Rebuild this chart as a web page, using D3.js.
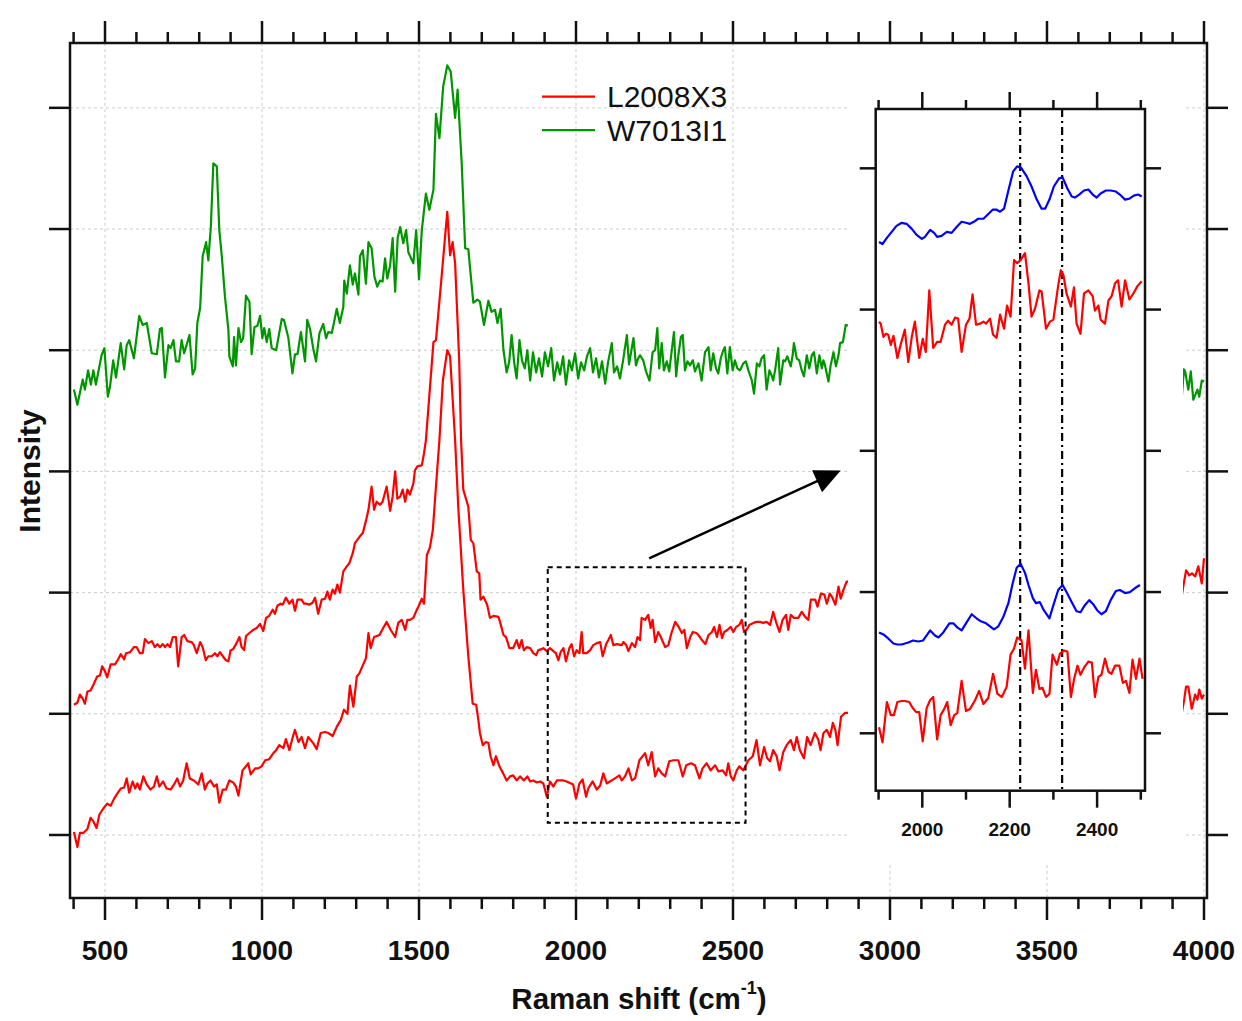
<!DOCTYPE html>
<html><head><meta charset="utf-8">
<script src="https://cdn.jsdelivr.net/npm/d3@7"></script>
<style>body{margin:0;background:#fff}svg{display:block}</style>
</head><body>
<script>
// ---------------- data ----------------
const seriesNames = ["L2008X3", "W7013I1"];
const xMajorTicks = [500, 1000, 1500, 2000, 2500, 3000, 3500, 4000];
const yTickValues = [0, 120, 240, 360, 480, 600, 720];
const insetXMajor = [2000, 2200, 2400];
const insetXMinor = [1900, 2100, 2300, 2500];
const insetYTicks = [0, 140, 280, 420, 560];
const insetMarkers = [2224, 2320];
const zoomBoxX = [1910, 2540];
const zoomBoxY = [12, 265];
const arrowFrom = [2233, 274];
const arrowTo = [2843, 361];

// W7013I1 (green, main panel)
const w7013i1 = [[401,441],[412,426],[429,451],[436,441],[446,460],[455,446],[463,460],[471,446],[489,475],[498,482],[509,434],[516,444],[526,470],[535,453],[550,487],[561,461],[569,485],[577,490],[592,472],[609,514],[620,505],[633,507],[649,477],[665,476],[675,501],[681,502],[691,453],[702,485],[709,482],[718,490],[726,469],[736,469],[744,490],[752,477],[769,495],[779,456],[787,462],[794,507],[803,522],[811,573],[822,587],[829,569],[837,602],[845,665],[856,662],[864,599],[872,573],[882,533],[893,500],[896,474],[907,464],[911,493],[917,465],[925,502],[933,488],[940,492],[949,534],[960,528],[967,476],[976,503],[985,504],[994,514],[1001,492],[1007,502],[1015,488],[1023,501],[1031,482],[1045,480],[1063,511],[1070,510],[1084,492],[1097,457],[1105,476],[1113,476],[1124,498],[1137,469],[1144,510],[1153,501],[1163,482],[1172,469],[1183,497],[1195,506],[1204,492],[1211,498],[1222,497],[1229,507],[1238,521],[1248,507],[1259,523],[1262,549],[1270,536],[1280,564],[1289,545],[1296,556],[1307,535],[1312,573],[1321,579],[1331,546],[1339,587],[1349,581],[1358,553],[1367,543],[1376,549],[1384,548],[1392,571],[1399,551],[1408,564],[1416,591],[1424,538],[1432,591],[1440,602],[1450,586],[1459,599],[1466,577],[1482,566],[1491,599],[1500,550],[1509,599],[1522,635],[1533,619],[1546,639],[1554,714],[1565,690],[1577,741],[1590,762],[1601,756],[1615,710],[1623,738],[1636,665],[1647,581],[1657,580],[1673,527],[1686,530],[1694,528],[1707,505],[1721,529],[1731,518],[1742,520],[1750,507],[1760,521],[1769,480],[1779,458],[1787,468],[1795,495],[1803,468],[1811,452],[1820,490],[1828,470],[1837,462],[1845,480],[1854,450],[1863,478],[1873,458],[1882,472],[1892,454],[1901,478],[1911,464],[1921,482],[1930,450],[1940,468],[1949,456],[1959,474],[1968,446],[1978,470],[1987,460],[1997,477],[2007,452],[2016,468],[2026,460],[2035,474],[2045,482],[2054,458],[2064,472],[2073,453],[2083,469],[2093,447],[2102,468],[2114,487],[2121,458],[2131,464],[2140,452],[2150,470],[2162,495],[2169,466],[2183,492],[2191,465],[2198,472],[2204,475],[2214,470],[2223,459],[2234,450],[2244,478],[2252,480],[2259,502],[2265,462],[2273,487],[2280,460],[2289,469],[2297,459],[2305,480],[2312,498],[2319,454],[2326,475],[2334,493],[2340,495],[2347,460],[2355,469],[2363,465],[2372,470],[2379,459],[2390,467],[2400,450],[2411,478],[2422,483],[2429,460],[2437,477],[2446,462],[2453,457],[2461,472],[2469,480],[2474,483],[2482,457],[2490,483],[2499,460],[2506,470],[2514,462],[2522,460],[2533,467],[2541,469],[2549,460],[2560,450],[2567,437],[2576,467],[2584,464],[2591,472],[2599,475],[2607,441],[2616,460],[2623,455],[2628,450],[2634,460],[2644,482],[2650,446],[2660,470],[2666,469],[2673,474],[2684,464],[2690,475],[2694,487],[2703,472],[2711,470],[2719,460],[2726,454],[2735,475],[2743,462],[2751,475],[2758,478],[2767,457],[2775,475],[2783,462],[2788,470],[2793,465],[2804,449],[2811,465],[2820,478],[2828,464],[2836,475],[2841,487],[2850,488],[2859,505],[3930,436],[3936,461],[3940,459],[3950,441],[3958,459],[3966,431],[3974,437],[3979,441],[3985,434],[3993,450],[4000,449]];

// L2008X3, upper trace (main panel)
const l2008x3Upper = [[401,129],[412,131],[420,139],[429,135],[436,130],[444,142],[454,143],[465,150],[475,157],[484,158],[491,167],[500,162],[507,156],[518,169],[532,169],[542,174],[550,179],[561,174],[567,180],[580,181],[592,186],[601,186],[611,180],[620,180],[627,194],[638,190],[649,192],[659,186],[667,189],[675,186],[684,189],[691,186],[699,189],[707,186],[716,196],[726,196],[733,167],[744,196],[752,198],[762,192],[776,191],[783,188],[792,180],[803,191],[811,186],[821,173],[829,177],[840,177],[850,180],[858,177],[866,181],[875,177],[885,173],[893,172],[900,183],[908,184],[919,190],[928,196],[935,186],[943,183],[949,197],[960,200],[972,203],[983,205],[994,209],[1004,202],[1013,215],[1023,217],[1034,223],[1041,219],[1049,227],[1059,229],[1066,228],[1076,235],[1087,229],[1097,233],[1105,222],[1113,233],[1126,233],[1134,229],[1142,229],[1150,228],[1161,230],[1169,235],[1179,219],[1190,233],[1201,234],[1208,241],[1216,233],[1225,243],[1232,239],[1240,248],[1248,240],[1259,261],[1270,266],[1278,269],[1289,279],[1296,289],[1310,295],[1321,299],[1331,311],[1339,322],[1349,345],[1357,322],[1365,330],[1376,327],[1384,330],[1397,345],[1408,321],[1416,335],[1424,360],[1431,333],[1440,335],[1448,342],[1456,330],[1463,342],[1471,337],[1482,348],[1487,361],[1495,365],[1509,366],[1516,378],[1522,391],[1546,488],[1554,490],[1572,553],[1590,617],[1599,574],[1607,587],[1615,566],[1628,470],[1634,391],[1641,342],[1657,325],[1665,292],[1673,289],[1684,261],[1692,259],[1696,233],[1705,236],[1717,228],[1726,215],[1737,217],[1753,216],[1758,211],[1769,198],[1777,196],[1788,185],[1800,185],[1811,193],[1819,185],[1827,193],[1834,183],[1843,186],[1854,185],[1864,180],[1873,178],[1880,183],[1891,184],[1896,185],[1907,182],[1917,185],[1928,182],[1936,180],[1944,173],[1951,181],[1960,185],[1968,172],[1979,185],[1986,189],[1994,177],[2002,183],[2011,180],[2018,201],[2023,180],[2034,180],[2045,183],[2055,188],[2066,190],[2077,191],[2085,177],[2096,189],[2103,193],[2111,198],[2119,188],[2130,189],[2146,188],[2151,191],[2160,188],[2167,182],[2178,190],[2188,186],[2196,196],[2204,193],[2209,215],[2220,213],[2230,218],[2238,205],[2244,213],[2252,191],[2262,201],[2270,196],[2284,186],[2294,188],[2305,201],[2316,211],[2327,206],[2337,200],[2345,203],[2353,185],[2364,196],[2372,201],[2383,200],[2390,198],[2401,193],[2412,189],[2422,198],[2433,201],[2440,206],[2449,196],[2457,208],[2465,195],[2472,201],[2482,203],[2493,206],[2501,201],[2510,206],[2520,208],[2528,213],[2535,201],[2543,203],[2552,208],[2565,210],[2575,211],[2586,211],[2596,210],[2607,211],[2618,208],[2628,221],[2637,211],[2648,201],[2658,213],[2669,218],[2676,203],[2684,218],[2694,215],[2708,215],[2719,221],[2730,216],[2740,213],[2748,233],[2762,233],[2769,226],[2780,239],[2791,238],[2799,229],[2808,239],[2815,236],[2826,228],[2836,246],[2843,234],[2852,243],[2862,251],[3930,238],[3934,246],[3943,262],[3953,257],[3962,259],[3972,256],[3982,266],[3993,249],[4000,274]];

// L2008X3, lower trace (main panel)
const l2008x3Lower = [[401,3],[412,-12],[420,2],[431,2],[444,6],[454,17],[462,14],[473,7],[482,20],[494,26],[507,31],[518,29],[529,36],[539,41],[550,46],[561,47],[569,56],[577,42],[588,53],[596,46],[603,51],[611,45],[622,58],[633,50],[645,45],[656,48],[665,58],[673,48],[685,53],[696,46],[709,45],[720,50],[730,56],[739,48],[749,54],[760,71],[770,56],[783,54],[797,50],[808,61],[818,45],[826,51],[836,54],[847,48],[856,50],[864,32],[875,45],[885,45],[896,54],[908,52],[917,48],[925,39],[938,64],[949,68],[956,71],[964,60],[978,66],[988,66],[999,68],[1010,74],[1023,75],[1036,81],[1045,84],[1055,89],[1068,86],[1076,95],[1087,84],[1098,97],[1105,104],[1116,92],[1126,97],[1137,86],[1147,97],[1163,91],[1174,85],[1187,101],[1201,102],[1211,101],[1225,98],[1238,107],[1251,114],[1261,124],[1272,120],[1280,148],[1291,127],[1302,157],[1310,160],[1321,168],[1331,175],[1339,200],[1346,185],[1357,196],[1374,198],[1386,205],[1397,211],[1410,203],[1424,196],[1434,210],[1445,213],[1456,203],[1463,213],[1471,213],[1482,215],[1493,223],[1498,226],[1509,234],[1516,229],[1525,277],[1535,285],[1544,302],[1554,345],[1565,391],[1576,450],[1590,480],[1599,474],[1615,391],[1625,325],[1641,243],[1657,177],[1671,130],[1682,129],[1689,114],[1694,101],[1703,89],[1713,92],[1721,91],[1728,78],[1737,69],[1745,78],[1756,68],[1768,61],[1779,54],[1790,58],[1800,59],[1811,54],[1822,58],[1834,54],[1845,58],[1854,53],[1864,54],[1875,52],[1886,53],[1896,51],[1907,38],[1917,53],[1928,48],[1939,54],[1960,54],[1970,53],[1991,50],[2000,36],[2011,51],[2021,55],[2032,38],[2039,46],[2053,53],[2066,45],[2077,49],[2087,61],[2098,51],[2108,53],[2124,56],[2138,59],[2146,54],[2156,58],[2167,66],[2178,54],[2188,56],[2202,74],[2220,81],[2230,69],[2241,82],[2252,58],[2262,66],[2273,61],[2284,58],[2297,73],[2310,74],[2326,74],[2340,58],[2351,69],[2366,71],[2379,69],[2393,56],[2403,66],[2416,71],[2429,64],[2443,69],[2453,63],[2467,64],[2478,59],[2485,71],[2493,58],[2501,54],[2512,64],[2520,68],[2533,64],[2549,74],[2563,78],[2575,94],[2586,69],[2599,87],[2609,76],[2618,73],[2628,84],[2639,78],[2648,64],[2660,82],[2671,89],[2684,94],[2694,84],[2703,97],[2713,84],[2726,76],[2736,97],[2747,89],[2761,101],[2772,94],[2779,84],[2788,101],[2799,104],[2809,97],[2818,111],[2826,104],[2833,89],[2844,117],[2857,121],[3930,122],[3937,134],[3943,147],[3950,147],[3961,125],[3972,139],[3979,134],[3985,144],[3993,135],[4000,139]];

// Inset: top pair
const insetBlueTop = [[1901,487],[1909,485],[1919,491],[1930,497],[1941,503],[1953,506],[1964,505],[1976,500],[1987,494],[1999,490],[2006,492],[2018,499],[2027,496],[2034,492],[2044,493],[2056,497],[2067,496],[2079,502],[2090,507],[2100,506],[2109,505],[2118,507],[2128,510],[2140,510],[2147,513],[2161,519],[2170,519],[2178,517],[2187,520],[2197,538],[2208,557],[2217,562],[2227,560],[2239,552],[2250,542],[2262,529],[2273,520],[2281,520],[2291,529],[2301,542],[2313,550],[2321,551],[2332,540],[2342,532],[2349,531],[2359,534],[2370,538],[2380,539],[2390,534],[2399,531],[2408,535],[2420,538],[2431,538],[2443,537],[2452,534],[2464,529],[2474,530],[2484,533],[2494,534],[2502,532]];
const insetRedTop = [[1901,408],[1905,406],[1911,393],[1917,396],[1922,395],[1928,385],[1934,394],[1943,372],[1951,386],[1960,400],[1968,368],[1976,393],[1983,408],[1993,372],[2001,391],[2008,378],[2016,439],[2025,382],[2034,388],[2042,388],[2052,405],[2059,409],[2067,405],[2075,412],[2082,411],[2090,378],[2100,405],[2108,411],[2115,435],[2123,405],[2132,406],[2140,408],[2146,406],[2155,411],[2162,395],[2170,392],[2178,415],[2187,401],[2194,424],[2202,413],[2210,469],[2217,466],[2225,469],[2235,476],[2243,446],[2250,413],[2258,421],[2268,439],[2273,438],[2283,401],[2292,408],[2300,410],[2311,444],[2317,459],[2323,454],[2330,436],[2340,423],[2347,442],[2353,406],[2362,396],[2370,436],[2380,439],[2390,433],[2395,419],[2403,424],[2408,410],[2418,406],[2426,429],[2433,433],[2441,446],[2448,449],[2456,423],[2464,449],[2474,430],[2483,436],[2492,443],[2502,448]];
// Inset: bottom pair
const insetBlueBottom = [[1901,100],[1911,98],[1922,94],[1934,89],[1943,88],[1953,88],[1968,90],[1979,92],[1991,91],[2002,92],[2010,97],[2018,102],[2029,97],[2037,95],[2048,100],[2062,109],[2071,109],[2080,105],[2090,102],[2100,109],[2113,118],[2124,114],[2134,111],[2146,109],[2155,106],[2164,103],[2174,106],[2185,115],[2197,129],[2207,149],[2216,164],[2225,168],[2235,159],[2243,147],[2253,134],[2260,129],[2269,130],[2278,122],[2291,114],[2300,127],[2311,142],[2321,147],[2330,140],[2342,130],[2353,121],[2362,120],[2372,127],[2382,132],[2391,128],[2400,122],[2410,118],[2420,121],[2431,132],[2443,141],[2452,142],[2464,139],[2475,140],[2487,144],[2498,147]];
const insetRedBottom = [[1901,6],[1909,-9],[1919,31],[1928,18],[1935,18],[1943,31],[1953,32],[1960,32],[1970,31],[1978,25],[1986,21],[1993,21],[2001,-8],[2010,25],[2018,33],[2025,36],[2034,-6],[2042,18],[2050,24],[2057,31],[2065,8],[2073,18],[2080,20],[2090,52],[2100,22],[2109,24],[2121,33],[2130,42],[2140,29],[2151,35],[2162,59],[2172,39],[2182,36],[2193,46],[2202,78],[2210,84],[2217,95],[2227,92],[2235,64],[2243,102],[2253,40],[2260,63],[2268,44],[2275,45],[2283,36],[2291,39],[2298,78],[2308,68],[2315,79],[2324,82],[2332,81],[2340,36],[2347,53],[2355,67],[2362,58],[2370,65],[2380,71],[2388,70],[2395,36],[2403,56],[2410,58],[2418,74],[2426,61],[2433,59],[2441,67],[2451,67],[2459,50],[2466,52],[2474,40],[2481,73],[2489,54],[2497,74],[2504,54]];

// ---------------- drawing ----------------
const RED = "#ff0000", GREEN = "#009600", BLUE = "#0000ff";
const FONT = '"Liberation Sans", Arial, Helvetica, sans-serif';

const svg = d3.select("body").append("svg").attr("width", 1242).attr("height", 1021)
  .style("font-family", FONT);

const x = d3.scaleLinear().domain([388.5, 4009.6]).range([70, 1207]);
const y = d3.scaleLinear().domain([-62.4, 784.2]).range([898, 43]);
const [L, R] = x.range();
const [B, T] = y.range();

const defs = svg.append("defs");
defs.append("clipPath").attr("id", "clipMain").append("rect")
  .attr("x", L).attr("y", T).attr("width", R - L).attr("height", B - T);

// grid
const grid = svg.append("g").attr("stroke", "#cccccc").attr("stroke-width", 1).attr("stroke-dasharray", "3,3");
grid.selectAll("line.gx").data(xMajorTicks).join("line").attr("class", "gx")
  .attr("x1", d => x(d)).attr("x2", d => x(d)).attr("y1", T).attr("y2", B);
grid.selectAll("line.gy").data(yTickValues).join("line").attr("class", "gy")
  .attr("x1", L).attr("x2", R).attr("y1", d => y(d)).attr("y2", d => y(d));

// curves
const line = d3.line().x(d => x(d[0])).y(d => y(d[1]));
const curves = svg.append("g").attr("clip-path", "url(#clipMain)")
  .attr("fill", "none").attr("stroke-width", 2.2).attr("stroke-linejoin", "round");
[[l2008x3Lower, RED], [l2008x3Upper, RED], [w7013i1, GREEN]].forEach(([data, c]) => {
  curves.append("path").datum(data).attr("d", line).attr("stroke", c);
});

// zoom box
svg.append("rect")
  .attr("x", x(zoomBoxX[0])).attr("y", y(zoomBoxY[1]))
  .attr("width", x(zoomBoxX[1]) - x(zoomBoxX[0])).attr("height", y(zoomBoxY[0]) - y(zoomBoxY[1]))
  .attr("fill", "none").attr("stroke", "#000").attr("stroke-width", 2).attr("stroke-dasharray", "5,4");

// arrow
{
  const ax0 = x(arrowFrom[0]), ay0 = y(arrowFrom[1]), ax1 = x(arrowTo[0]), ay1 = y(arrowTo[1]);
  const dx = ax1 - ax0, dy = ay1 - ay0, len = Math.hypot(dx, dy), ux = dx / len, uy = dy / len;
  const hl = 26, hw = 12;
  const bx = ax1 - ux * hl, by = ay1 - uy * hl;
  svg.append("line").attr("x1", ax0).attr("y1", ay0).attr("x2", bx + ux * 2).attr("y2", by + uy * 2)
    .attr("stroke", "#000").attr("stroke-width", 2.5);
  svg.append("path").attr("d", `M${ax1},${ay1}L${bx - uy * hw},${by + ux * hw}L${bx + uy * hw},${by - ux * hw}Z`)
    .attr("fill", "#000");
}

// legend
const legendColors = [RED, GREEN];
const legend = svg.append("g");
seriesNames.forEach((n, i) => {
  const ly = 96.7 + i * 33.4;
  legend.append("line").attr("x1", 542).attr("x2", 595).attr("y1", ly).attr("y2", ly)
    .attr("stroke", legendColors[i]).attr("stroke-width", 2.2);
  legend.append("text").attr("x", 607).attr("y", ly + 10.6).attr("font-size", 30)
    .attr("fill", "#111").text(n);
});

// main frame and ticks
const axes = svg.append("g").attr("stroke", "#111").attr("stroke-width", 2.5);
axes.append("rect").attr("x", L).attr("y", T).attr("width", R - L).attr("height", B - T).attr("fill", "none");
const xMinor = d3.range(400, 4001, 100).filter(v => !xMajorTicks.includes(v));
xMinor.forEach(v => {
  axes.append("line").attr("x1", x(v)).attr("x2", x(v)).attr("y1", B).attr("y2", B + 11);
  axes.append("line").attr("x1", x(v)).attr("x2", x(v)).attr("y1", T).attr("y2", T - 11);
});
xMajorTicks.forEach(v => {
  axes.append("line").attr("x1", x(v)).attr("x2", x(v)).attr("y1", B).attr("y2", B + 22);
  axes.append("line").attr("x1", x(v)).attr("x2", x(v)).attr("y1", T).attr("y2", T - 22);
});
yTickValues.forEach(v => {
  axes.append("line").attr("x1", L - 21).attr("x2", L).attr("y1", y(v)).attr("y2", y(v));
  axes.append("line").attr("x1", R).attr("x2", R + 21).attr("y1", y(v)).attr("y2", y(v));
});
svg.append("g").selectAll("text").data(xMajorTicks).join("text")
  .attr("x", d => x(d)).attr("y", 960).attr("text-anchor", "middle")
  .attr("font-size", 28).attr("font-weight", "bold").attr("fill", "#111").text(d => d);

// axis titles
const xt = svg.append("text").attr("x", 639).attr("y", 1009).attr("text-anchor", "middle")
  .attr("font-size", 29.5).attr("font-weight", "bold").attr("fill", "#111");
xt.append("tspan").text("Raman shift (cm");
xt.append("tspan").attr("font-size", 18).attr("dy", -15).text("-1");
xt.append("tspan").attr("dy", 15).text(")");
svg.append("text").attr("transform", "translate(40,471) rotate(-90)").attr("text-anchor", "middle")
  .attr("font-size", 30).attr("font-weight", "bold").attr("fill", "#111").text("Intensity");

// ---------------- inset ----------------
svg.append("rect").attr("x", 848).attr("y", 45).attr("width", 335).attr("height", 819).attr("fill", "#fff");

const xi = d3.scaleLinear().domain([1893.4, 2509.6]).range([875.7, 1145]);
const yi = d3.scaleLinear().domain([-56.9, 618.8]).range([790.7, 109]);
const [iL, iR] = xi.range();
const [iB, iT] = yi.range();
defs.append("clipPath").attr("id", "clipInset").append("rect")
  .attr("x", iL).attr("y", iT).attr("width", iR - iL).attr("height", iB - iT);

// marker lines
svg.append("g").selectAll("line").data(insetMarkers).join("line")
  .attr("x1", d => xi(d)).attr("x2", d => xi(d)).attr("y1", iT).attr("y2", iB)
  .attr("stroke", "#000").attr("stroke-width", 2.2).attr("stroke-dasharray", "8,4,2,4");

const lineI = d3.line().x(d => xi(d[0])).y(d => yi(d[1]));
const icurves = svg.append("g").attr("clip-path", "url(#clipInset)")
  .attr("fill", "none").attr("stroke-width", 2.2).attr("stroke-linejoin", "round");
[[insetBlueTop, BLUE], [insetRedTop, RED], [insetBlueBottom, BLUE], [insetRedBottom, RED]].forEach(([data, c]) => {
  icurves.append("path").datum(data).attr("d", lineI).attr("stroke", c);
});

const iaxes = svg.append("g").attr("stroke", "#111").attr("stroke-width", 2.5);
iaxes.append("rect").attr("x", iL).attr("y", iT).attr("width", iR - iL).attr("height", iB - iT).attr("fill", "none");
insetXMinor.forEach(v => {
  iaxes.append("line").attr("x1", xi(v)).attr("x2", xi(v)).attr("y1", iB).attr("y2", iB + 9);
  iaxes.append("line").attr("x1", xi(v)).attr("x2", xi(v)).attr("y1", iT).attr("y2", iT - 9);
});
insetXMajor.forEach(v => {
  iaxes.append("line").attr("x1", xi(v)).attr("x2", xi(v)).attr("y1", iB).attr("y2", iB + 17);
  iaxes.append("line").attr("x1", xi(v)).attr("x2", xi(v)).attr("y1", iT).attr("y2", iT - 17);
});
insetYTicks.forEach(v => {
  iaxes.append("line").attr("x1", iL - 16).attr("x2", iL).attr("y1", yi(v)).attr("y2", yi(v));
  iaxes.append("line").attr("x1", iR).attr("x2", iR + 16).attr("y1", yi(v)).attr("y2", yi(v));
});
svg.append("g").selectAll("text").data(insetXMajor).join("text")
  .attr("x", d => xi(d)).attr("y", 836).attr("text-anchor", "middle")
  .attr("font-size", 19).attr("font-weight", "bold").attr("fill", "#111").text(d => d);
</script>
</body></html>
